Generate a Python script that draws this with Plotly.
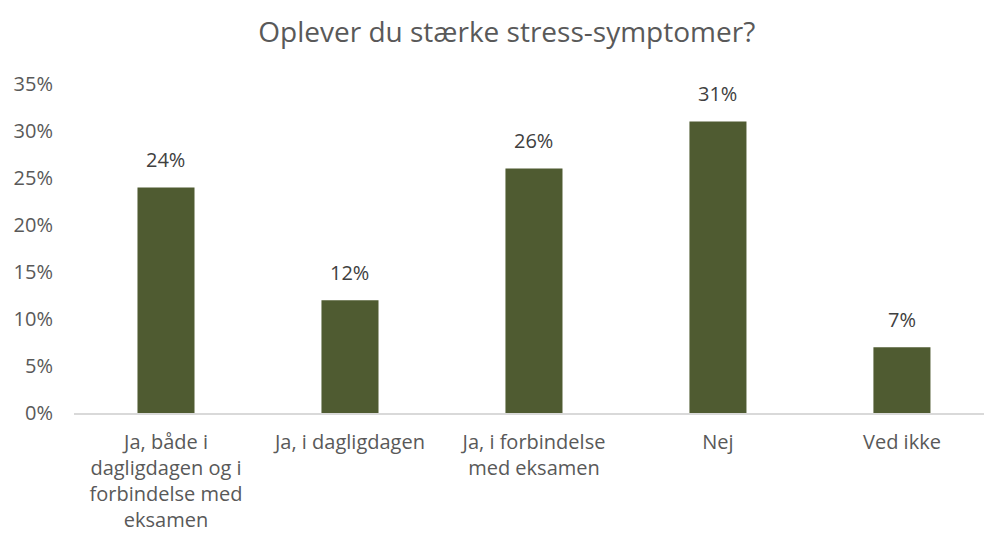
import plotly.graph_objects as go

categories = [
    "Ja, både i<br>dagligdagen og i<br>forbindelse med<br>eksamen",
    "Ja, i dagligdagen",
    "Ja, i forbindelse<br>med eksamen",
    "Nej",
    "Ved ikke",
]
values = [0.24, 0.12, 0.26, 0.31, 0.07]
value_labels = ["24%", "12%", "26%", "31%", "7%"]
y_ticks = [0, 0.05, 0.10, 0.15, 0.20, 0.25, 0.30, 0.35]
y_tick_labels = ["0%", "5%", "10%", "15%", "20%", "25%", "30%", "35%"]

bar_color = "#4F5B31"
text_color = "#595959"
font_family = "Open Sans"

fig = go.Figure()
fig.add_trace(go.Bar(
    x=list(range(len(categories))), y=values,
    marker=dict(color=bar_color, line=dict(width=0)),
    width=0.31, hoverinfo="skip",
))

for i, (v, lab) in enumerate(zip(values, value_labels)):
    fig.add_annotation(
        x=i, y=v, text=lab, showarrow=False, yshift=28,
        font=dict(family=font_family, size=20, color="#404040"),
    )

fig.update_layout(
    width=984, height=542,
    margin=dict(l=74, r=0, t=84, b=129, autoexpand=False),
    plot_bgcolor="white", paper_bgcolor="white",
    showlegend=False,
    title=dict(
        text="Oplever du stærke stress-symptomer?",
        x=0.515, xanchor="center", y=0.94, yanchor="middle",
        font=dict(family=font_family, size=28, color=text_color),
    ),
    xaxis=dict(
        range=[-0.5, 4.446], automargin=False,
        tickmode="array", tickvals=list(range(len(categories))), ticktext=categories,
        tickfont=dict(family=font_family, size=20, color=text_color),
        showgrid=False, zeroline=False,
        showline=True, linecolor="#D9D9D9", linewidth=2,
        ticks="", ticklabelstandoff=10,
    ),
    yaxis=dict(
        range=[0, 0.35], automargin=False,
        tickmode="array", tickvals=y_ticks, ticktext=y_tick_labels,
        tickfont=dict(family=font_family, size=20, color=text_color),
        showgrid=False, zeroline=False, showline=False,
        ticks="", ticklabelstandoff=20,
    ),
)

# drop the default page margin so the figure sits at the window's top-left
fig.write_html("out.html", config={"displayModeBar": False},
               post_script="document.body.style.margin='0';")
